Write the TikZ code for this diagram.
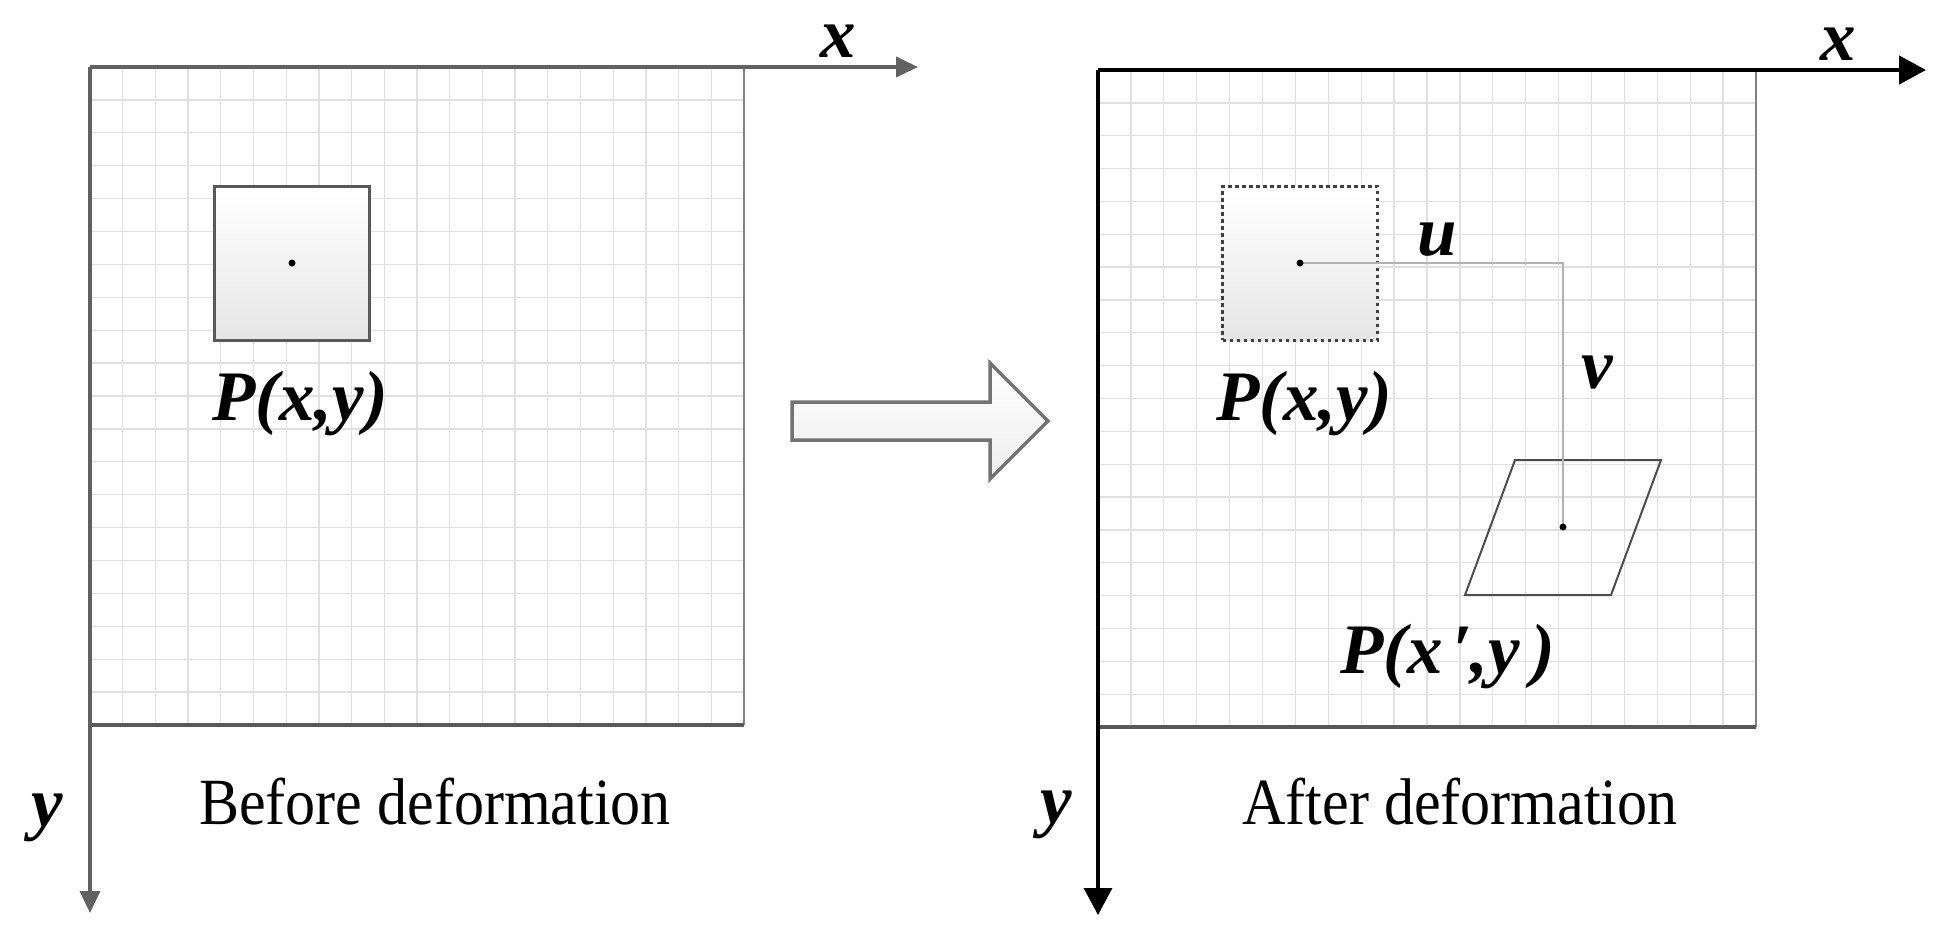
\documentclass[tikz,border=0pt]{standalone}
\usepackage{fontspec}
\setmainfont{Liberation Serif}
\newfontfamily\capfont[FakeStretch=0.91]{Liberation Serif}
\usetikzlibrary{arrows.meta}
\begin{document}
\begin{tikzpicture}[x=1pt,y=-1pt,
  gridline/.style={draw=black!12, line width=1.3pt},
  axisgray/.style={draw=black!62, line width=3.5pt, line join=miter},
  axisblack/.style={draw=black, line width=4pt, line join=miter},
  edgethin/.style={draw=black!50, line width=1.6pt},
  edgethick/.style={draw=black!65, line width=4pt},
  lab/.style={font=\fontsize{71}{84}\selectfont\bfseries\itshape, inner sep=0pt, anchor=base},
  captext/.style={font=\capfont\fontsize{66}{78}\selectfont, inner sep=0pt, anchor=base},
  sqbox/.style={minimum width=155pt, minimum height=154pt, inner sep=0pt,
    top color=white, bottom color=black!10, draw=black!65, line width=3pt},
  dotborder/.style={dash pattern=on 3.5pt off 3.5pt, draw=black!75},
  dotmark/.style={circle, fill=black, minimum size=7pt, inner sep=0pt},
  conn/.style={draw=black!30, line width=1.5pt},
  bigarrow/.style={draw=black!55, line width=3.5pt, top color=white, bottom color=black!7},
  para/.style={draw=black!70, line width=2pt, line join=miter}
]
\useasboundingbox (0,0) rectangle (1953,942);

% ---------------- left panel ----------------
\foreach \i in {1,...,19} {
  \draw[gridline] ({90+\i*32.7},67) -- ({90+\i*32.7},725);
  \draw[gridline] (90,{67+\i*32.9}) -- (744,{67+\i*32.9});
}
\coordinate (O1) at (90,67);
\coordinate (X1) at (918,67);
\coordinate (Y1) at (90,913);
\coordinate (R1t) at (744,67);
\coordinate (R1b) at (744,725);
\coordinate (L1b) at (90,725);
\draw[edgethin] (R1t) -- (R1b);
\draw[edgethick] (L1b) -- (R1b);
\draw[axisgray, arrows={-Triangle[length=22pt,width=20pt]}] (O1) -- (X1);
\draw[axisgray, arrows={-Triangle[length=22pt,width=20pt]}] (O1) -- (Y1);

\node[lab] (x1) at (838,58) {x};
\node[lab] (y1) at (47,826) {y};
\node[captext] (cap1) at (435,824) {Before deformation};

\node[sqbox] (sq1) at (292,263) {};
\node[dotmark] (d1) at (sq1.center) {};
\node[lab, anchor=base west] (p1) at (212,420) {P(x,y)};

% ---------------- big arrow ----------------
\draw[bigarrow] (792,402) -- (990,402) -- (990,363) -- (1048,421)
  -- (990,479) -- (990,440) -- (792,440) -- cycle;

% ---------------- right panel ----------------
\foreach \i in {1,...,19} {
  \draw[gridline] ({1098+\i*32.9},70) -- ({1098+\i*32.9},727);
  \draw[gridline] (1098,{70+\i*32.85}) -- (1756,{70+\i*32.85});
}
\coordinate (O2) at (1098,70);
\coordinate (X2) at (1926,70);
\coordinate (Y2) at (1098,915);
\coordinate (R2t) at (1756,70);
\coordinate (R2b) at (1756,727);
\coordinate (L2b) at (1098,727);
\draw[edgethin] (R2t) -- (R2b);
\draw[edgethick] (L2b) -- (R2b);
\draw[axisblack, line width=4.5pt, arrows={-Triangle[length=27pt,width=28pt]}] (O2) -- (X2);
\draw[axisblack, line width=3.5pt, arrows={-Triangle[length=27pt,width=28pt]}] (O2) -- (Y2);

\node[lab] (x2) at (1838,60) {x};
\node[lab] (y2) at (1056,823) {y};
\node[captext] (cap2) at (1460,824) {After deformation};

\node[sqbox, dotborder] (sq2) at (1300,263) {};
\node[lab, anchor=base west] (p2) at (1216,420) {P(x,y)};

% deformed element
\coordinate (c3) at (1563,527);
\draw[para] (1515,460) -- (1661,460) -- (1611,595) -- (1465,595) -- cycle;

% displacement path
\draw[conn] (sq2.center) -| (c3);
\node[dotmark] (d2) at (sq2.center) {};
\node[dotmark] (d3) at (c3) {};

\node[lab] (u) at (1437,255) {u};
\node[lab] (v) at (1597,388) {v};
\node[lab, anchor=base west] (p3) at (1340,673) {P(x\kern10pt′\kern-2pt,y\kern12pt)};
\end{tikzpicture}
\end{document}
